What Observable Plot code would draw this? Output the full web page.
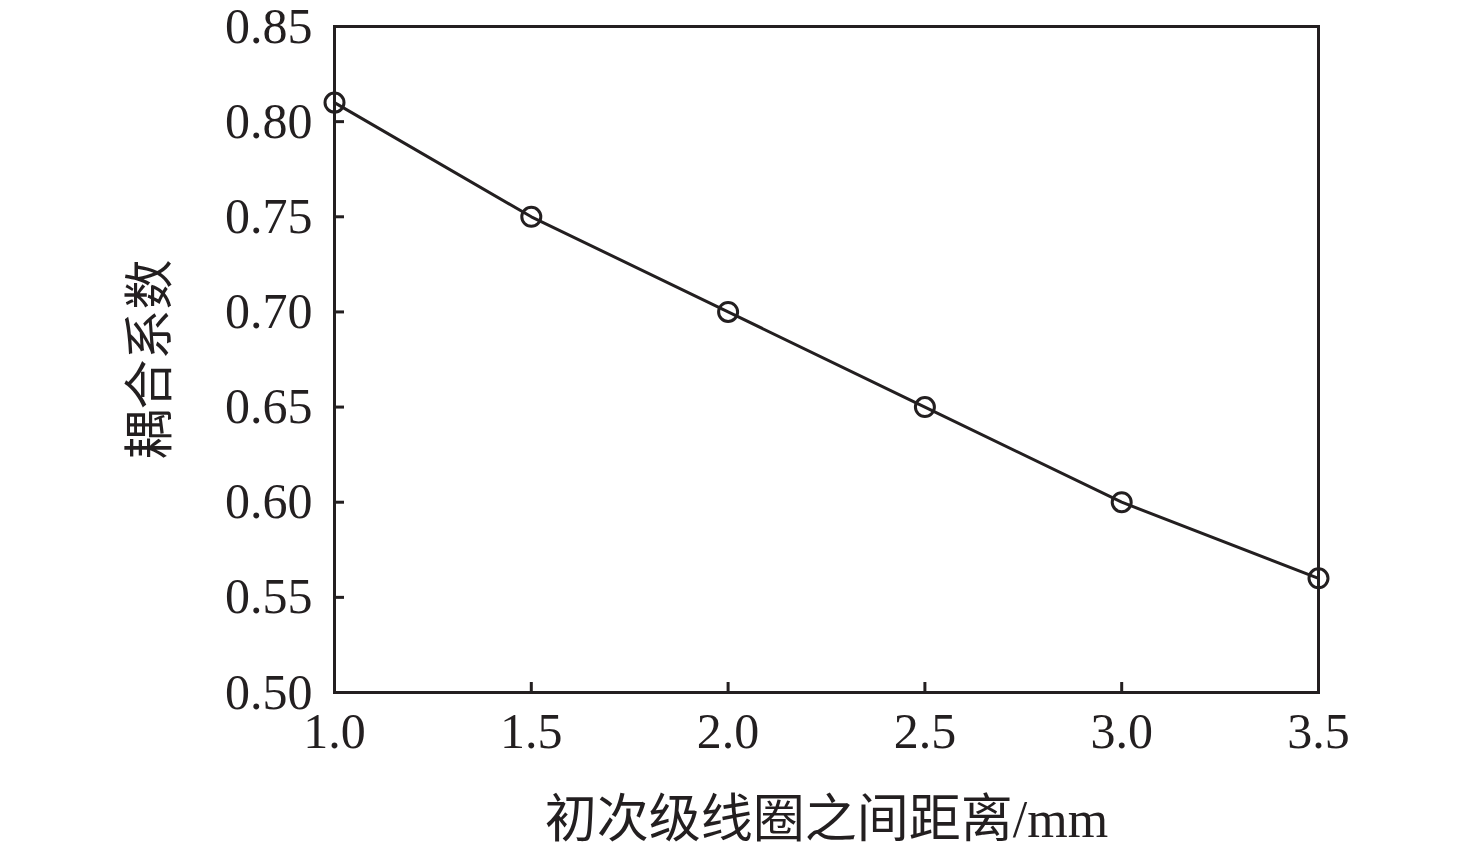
<!DOCTYPE html>
<html>
<head>
<meta charset="utf-8">
<script src="https://cdn.jsdelivr.net/npm/d3@7"></script>
<script src="https://cdn.jsdelivr.net/npm/@observablehq/plot@0.6"></script>
<style>
  html, body { margin: 0; padding: 0; background: #fff; }
  #chart svg { display: block; }
</style>
</head>
<body>
<div id="chart"></div>
<script>
const distances = [1.0, 1.5, 2.0, 2.5, 3.0, 3.5];
const coupling = [0.81, 0.75, 0.70, 0.65, 0.60, 0.56];
const xTicks = [1.0, 1.5, 2.0, 2.5, 3.0, 3.5];
const yTicks = [0.50, 0.55, 0.60, 0.65, 0.70, 0.75, 0.80, 0.85];
const xLabel = "初次级线圈之间距离/mm";
const yLabel = "耦合系数";

const data = distances.map((d, i) => ({x: d, y: coupling[i]}));
const ink = "#231f20";
const font = "'Liberation Serif', 'Noto Sans CJK SC', serif";

const chart = Plot.plot({
  width: 1476,
  height: 851,
  marginLeft: 334,
  marginRight: 158,
  marginTop: 26,
  marginBottom: 159,
  style: {fontFamily: font, color: ink, background: "#fff"},
  x: {domain: [1, 3.5]},
  y: {domain: [0.5, 0.85]},
  marks: [
    // inward tick marks
    Plot.axisY(yTicks, {anchor: "left", tickSize: 10, dx: 10, strokeWidth: 3, stroke: ink, tickFormat: () => "", label: null}),
    Plot.axisX(xTicks, {anchor: "bottom", tickSize: 10, dy: -10, strokeWidth: 3, stroke: ink, tickFormat: () => "", label: null}),
    // tick labels
    Plot.axisY(yTicks, {anchor: "left", tickSize: 0, tickPadding: 22, fontSize: 50, fill: ink, tickFormat: d3.format(".2f"), label: null}),
    Plot.axisX(xTicks, {anchor: "bottom", tickSize: 0, tickPadding: 20, fontSize: 50, fill: ink, tickFormat: d3.format(".1f"), label: null}),
    Plot.frame({stroke: ink, strokeWidth: 3}),
    Plot.line(data, {x: "x", y: "y", stroke: ink, strokeWidth: 3}),
    Plot.dot(data, {x: "x", y: "y", r: 9.5, stroke: ink, strokeWidth: 3, fill: "none"}),
    Plot.text([xLabel], {text: d => d, frameAnchor: "bottom", dy: 128, fontSize: 52, fill: ink, lineAnchor: "middle", textAnchor: "middle"}),
    Plot.text([yLabel], {text: d => d, frameAnchor: "left", dx: -184, rotate: -90, fontSize: 50, fill: ink, lineAnchor: "middle", textAnchor: "middle"})
  ]
});
document.getElementById("chart").appendChild(chart);
</script>
</body>
</html>
